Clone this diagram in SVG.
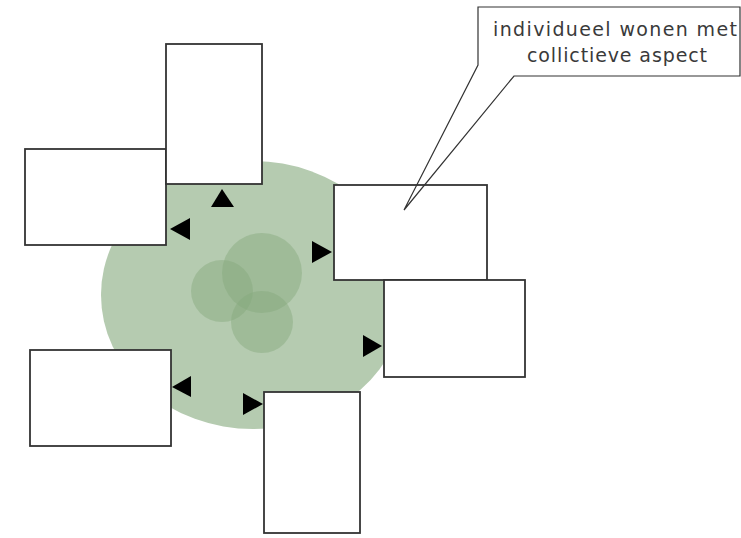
<svg xmlns="http://www.w3.org/2000/svg" width="741" height="538" viewBox="0 0 741 538">
<style>
.box{fill:#ffffff;stroke:#333333;stroke-width:1.8}
.tri{fill:#000000}
.sm{fill:#86a87c;fill-opacity:0.45}
.lbl{font-family:"DejaVu Sans","Liberation Sans",sans-serif;font-size:19px;fill:#3a3a3a;text-anchor:middle}
</style>
<rect width="741" height="538" fill="#ffffff"/>
<g id="background">
<ellipse cx="253" cy="295" rx="152" ry="134" fill="#b5cbb0"/>
<circle class="sm" cx="222" cy="291" r="31"/>
<circle class="sm" cx="262" cy="273" r="40"/>
<circle class="sm" cx="262" cy="322" r="31"/>
</g>
<g id="node-b"><rect class="box" x="25" y="149" width="141" height="96"/></g>
<g id="node-a"><rect class="box" x="166" y="44" width="96" height="140"/></g>
<g id="node-c"><rect class="box" x="30" y="350" width="141" height="96"/></g>
<g id="node-d"><rect class="box" x="264" y="392" width="96" height="141"/></g>
<g id="node-e"><rect class="box" x="334" y="185" width="153" height="95"/></g>
<g id="node-f"><rect class="box" x="384" y="280" width="141" height="97"/></g>
<g id="connectors">
<polygon class="tri" points="222,189 211,207 234,207"/>
<polygon class="tri" points="170,229 190,218 190,240"/>
<polygon class="tri" points="312,241 312,263 332,252"/>
<polygon class="tri" points="363,335 363,357 382,346"/>
<polygon class="tri" points="172,387 191,376 191,397"/>
<polygon class="tri" points="243,393 243,415 263,404"/>
</g>
<g id="callout">
<polygon points="478,7 740,7 740,76 514,76 404,210 478,65" fill="none" stroke="#333333" stroke-width="1.2"/>
<text class="lbl" x="615" y="36" textLength="244" lengthAdjust="spacing">individueel wonen met</text>
<text class="lbl" x="617" y="62" textLength="180" lengthAdjust="spacing">collictieve aspect</text>
</g>
</svg>
